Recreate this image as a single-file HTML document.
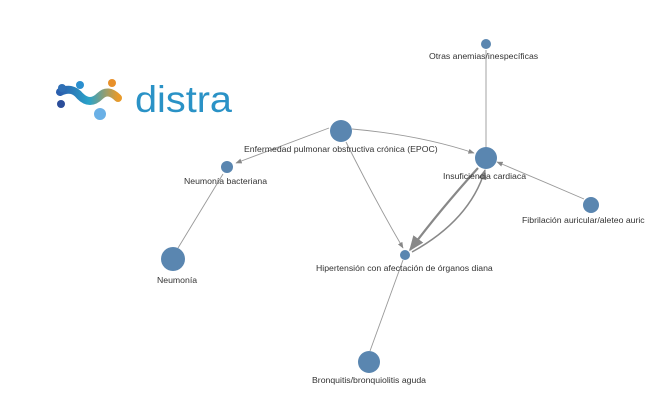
<!DOCTYPE html>
<html><head><style>
html,body{margin:0;padding:0;background:#fff;width:648px;height:405px;overflow:hidden}
svg{display:block}
text{font-family:"Liberation Sans",sans-serif;font-size:8.7px;fill:#333}
</style></head><body>
<svg width="648" height="405" viewBox="0 0 648 405">
<defs>
<marker id="a" viewBox="0 0 10 10" refX="9" refY="5" markerWidth="7" markerHeight="7" orient="auto"><path d="M0,1 L10,5 L0,9 z" fill="#888"/></marker>
<linearGradient id="g" x1="0" x2="1"><stop offset="0" stop-color="#2b5fae"/><stop offset="0.5" stop-color="#2aa3c9"/><stop offset="1" stop-color="#e89a2a"/></linearGradient>
</defs>
<path d="M60,92 Q72,86 80,96 Q90,106 100,96 Q108,88 118,98" stroke="url(#g)" stroke-width="8" fill="none" stroke-linecap="round"/>
<circle cx="62" cy="88" r="4" fill="#2f6fb5"/>
<circle cx="80" cy="85" r="4" fill="#2a8fcf"/>
<circle cx="112" cy="83" r="4" fill="#e8902a"/>
<circle cx="61" cy="104" r="4" fill="#2b4d9a"/>
<circle cx="100" cy="114" r="6" fill="#6ab0e6"/>
<text x="135" y="112" textLength="97" lengthAdjust="spacingAndGlyphs" style="font-size:37px;fill:#2a92c6">distra</text>
<g stroke="#999" fill="none" stroke-width="0.9">
<path d="M486,50 L486,147"/>
<path d="M329,128 L236,163" marker-end="url(#a)"/>
<path d="M352,129 Q420,135 474,153" marker-end="url(#a)"/>
<path d="M346,142 Q375,200 403,248" marker-end="url(#a)"/>
<path d="M584,199 Q540,180 497,162" marker-end="url(#a)"/>
<path d="M223,174 L178,248"/>
<path d="M403,260 L370,351"/>
<path d="M478,168 Q440,210 410,250" stroke="#888" stroke-width="2.2" marker-end="url(#a)"/>
<path d="M412,252 Q470,220 485,170" stroke="#888" stroke-width="1.5" marker-end="url(#a)"/>
</g>
<g fill="#5a86b0">
<circle cx="341" cy="131" r="11"/>
<circle cx="486" cy="158" r="11"/>
<circle cx="227" cy="167" r="6"/>
<circle cx="173" cy="259" r="12"/>
<circle cx="405" cy="255" r="5"/>
<circle cx="369" cy="362" r="11"/>
<circle cx="486" cy="44" r="5"/>
<circle cx="591" cy="205" r="8"/>
</g>
<text x="244" y="152">Enfermedad pulmonar obstructiva crónica (EPOC)</text>
<text x="443" y="179">Insuficiencia cardiaca</text>
<text x="184" y="184">Neumonía bacteriana</text>
<text x="157" y="283">Neumonía</text>
<text x="316" y="271">Hipertensión con afectación de órganos diana</text>
<text x="312" y="383">Bronquitis/bronquiolitis aguda</text>
<text x="429" y="59">Otras anemias/inespecíficas</text>
<text x="522" y="223">Fibrilación auricular/aleteo auric</text>
</svg>
</body></html>
